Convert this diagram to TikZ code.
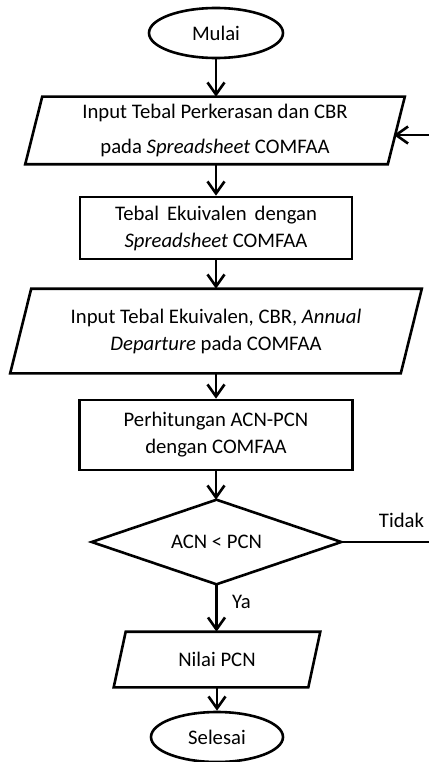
\documentclass[tikz,border=0pt]{standalone}
\usepackage{fontspec}
\setmainfont{Carlito}
\usetikzlibrary{shapes.geometric,arrows.meta}
\begin{document}
\begin{tikzpicture}[x=1pt,y=1pt,
  line width=2.6pt,
  txt/.style={font=\fontsize{20.7}{27}\selectfont, align=center, text=black},
  term/.style={txt, draw, ellipse, inner sep=0pt},
  boxnode/.style={txt, draw, rectangle, inner sep=0pt},
  plain/.style={txt, inner sep=0pt},
  arr/.style={-{Straight Barb[length=12pt,width=17pt]}},
  lbl/.style={font=\fontsize{20.7}{24}\selectfont, text=black, inner sep=0pt}
]
\useasboundingbox (0,0) rectangle (428,-762);
\fill[white] (0,0) rectangle (428,-762);

% Mulai
\node[term, minimum width=134pt, minimum height=50pt] (m) at (216,-33) {Mulai};

% para 1
\node[plain, minimum width=360pt, minimum height=65pt] (p1) at (215,-130.5) {Input Tebal Perkerasan dan CBR\\[8pt]pada \textit{Spreadsheet} COMFAA};
\draw ([xshift=8.5pt]p1.north west) -- ([xshift=8.5pt]p1.north east) -- ([xshift=-8.5pt]p1.south east) -- ([xshift=-8.5pt]p1.south west) -- cycle;

% rect 1
\node[boxnode, minimum width=272pt, minimum height=62pt] (r1) at (216,-228) {\hbox to 202pt{Tebal\hfill Ekuivalen\hfill dengan}\\\textit{Spreadsheet} COMFAA};

% para 2
\node[plain, minimum width=388pt, minimum height=82pt] (p2) at (216,-331) {Input Tebal Ekuivalen, CBR, \textit{Annual}\\\textit{Departure} pada COMFAA};
\draw ([xshift=10.5pt]p2.north west) -- ([xshift=10.5pt]p2.north east) -- ([xshift=-10.5pt]p2.south east) -- ([xshift=-10.5pt]p2.south west) -- cycle;

% rect 2
\node[boxnode, minimum width=273pt, minimum height=70pt] (r2) at (216,-435) {Perhitungan ACN-PCN\\dengan COMFAA};

% diamond
\node[plain, minimum width=247pt, minimum height=82pt] (d) at (216.5,-542) {ACN < PCN};
\draw (d.north) -- (d.east) -- (d.south) -- (d.west) -- cycle;

% para 3
\node[plain, minimum width=192pt, minimum height=53pt] (p3) at (217,-659.5) {Nilai PCN};
\draw ([xshift=6pt]p3.north west) -- ([xshift=6pt]p3.north east) -- ([xshift=-6pt]p3.south east) -- ([xshift=-6pt]p3.south west) -- cycle;

% Selesai
\node[term, minimum width=132pt, minimum height=50pt] (s) at (217,-737) {Selesai};

% connectors
\draw[arr] (m.south) -- (m.south |- p1.north);
\draw[arr] (p1.south -| r1.north) -- (r1.north);
\draw[arr] (r1.south) -- (r1.south |- p2.north);
\draw[arr] (p2.south -| r2.north) -- (r2.north);
\draw[arr] (r2.south) -- (r2.south |- d.north);
\draw[arr] (d.south) -- (d.south |- p3.north);
\draw[arr] (p3.south -| s.north) -- (s.north);

% loop back
\coordinate (rb) at (431,-542);
\coordinate (rt) at (431,-135);
\coordinate (in1) at (393.8,-135);
\draw[arr] (d.east) -- (rb) -- (rt) -- (in1);

% labels
\node[lbl, anchor=base] (tidak) at (401.5,-527) {Tidak};
\node[lbl, anchor=base] (ya) at (241.5,-608) {Ya};
\end{tikzpicture}
\end{document}
